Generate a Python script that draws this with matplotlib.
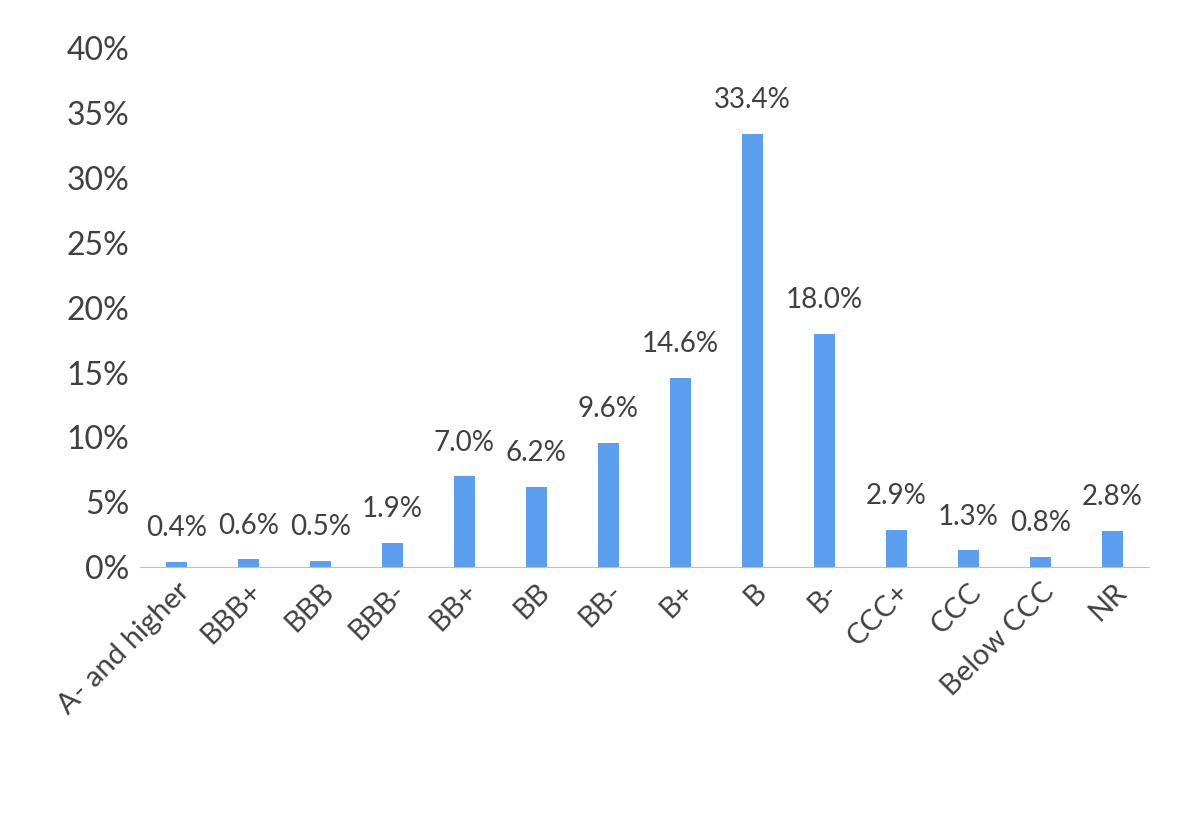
import matplotlib.pyplot as plt

categories = ['A- and higher', 'BBB+', 'BBB', 'BBB-', 'BB+', 'BB', 'BB-',
              'B+', 'B', 'B-', 'CCC+', 'CCC', 'Below CCC', 'NR']
values = [0.4, 0.6, 0.5, 1.9, 7.0, 6.2, 9.6, 14.6, 33.4, 18.0, 2.9, 1.3, 0.8, 2.8]
yticks = [0, 5, 10, 15, 20, 25, 30, 35, 40]

plt.rcParams['font.family'] = ['Lato', 'DejaVu Sans']
txt = '#404040'

fig = plt.figure(figsize=(11.89, 8.15), dpi=100)
ax = fig.add_axes([0.118, 0.304, 0.848, 0.637])

x = range(len(categories))
ax.bar(x, values, width=0.3, color='#5B9FF0')
for i, v in zip(x, values):
    ax.text(i, v + 1.6, f'{v:.1f}%', ha='center', va='bottom', fontsize=20, color=txt)

ax.set_xlim(-0.5, len(categories) - 0.5)
ax.set_ylim(0, 40)
ax.set_yticks(yticks)
ax.set_yticklabels([f'{t}%' for t in yticks], fontsize=23, color=txt)
ax.set_xticks(list(x))
ax.set_xticklabels(categories, rotation=45, ha='right', rotation_mode='anchor',
                   fontsize=21, color=txt)
ax.tick_params(length=0, pad=8)
for s in ['top', 'right', 'left']:
    ax.spines[s].set_visible(False)
ax.spines['bottom'].set_color('#BFBFBF')

fig.savefig('out.png', dpi=100)
